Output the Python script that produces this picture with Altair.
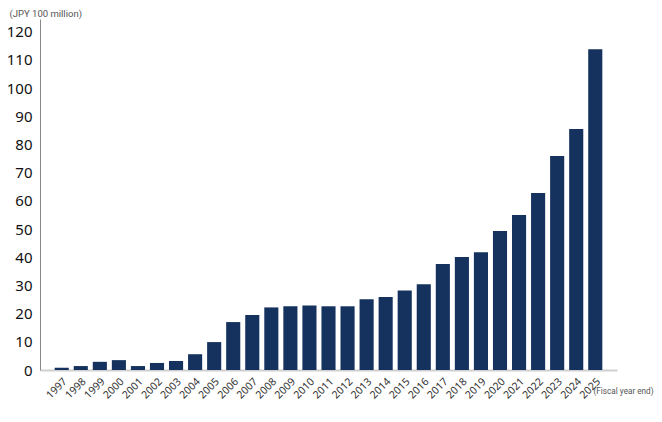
import altair as alt
import pandas as pd

years = [str(y) for y in range(1997, 2026)]
values = [0.8, 1.4, 2.9, 3.5, 1.4, 2.5, 3.2, 5.6, 9.9, 17.0, 19.5, 22.2, 22.6, 22.9, 22.6,
          22.6, 25.1, 25.9, 28.2, 30.4, 37.6, 40.1, 41.8, 49.3, 55.0, 62.8, 75.9, 85.5, 113.8]

df = pd.DataFrame({"year": years, "value": values})

FONT = "Noto Sans"

chart = alt.Chart(df).mark_bar(color="#15325e").encode(
    x=alt.X("year:N", sort=years,
            scale=alt.Scale(paddingInner=0.26, paddingOuter=0.77),
            axis=alt.Axis(title="(Fiscal year end)", labelAngle=-45, labelFontSize=10.5,
                          labelColor="#333333", labelFont=FONT, labelPadding=6,
                          ticks=False, tickSize=0, domainColor="#d0d0d0", domainWidth=2,
                          titleFont="Roboto", titleFontSize=8.2, titleFontWeight="normal",
                          titleColor="#555555", titleAnchor="start", titleAlign="left",
                          titleBaseline="middle", titleX=553, titleY=21)),
    y=alt.Y("value:Q", scale=alt.Scale(domain=[0, 124.5], nice=False),
            axis=alt.Axis(values=list(range(0, 121, 10)), title="(JPY 100 million)",
                          labelFontSize=15, labelColor="#111111", labelFont=FONT,
                          labelPadding=8, ticks=False, tickSize=0, grid=False,
                          domainColor="#888888", domainWidth=1,
                          titleFont="Roboto", titleFontSize=9.5, titleFontWeight="normal",
                          titleColor="#555555", titleAngle=0, titleAlign="left",
                          titleBaseline="alphabetic", titleX=-31, titleY=-3)),
).properties(
    width=577, height=351,
    background="white",
    autosize=alt.AutoSizeParams(type="none"),
    padding={"left": 32, "top": 11, "right": 37, "bottom": 36},
).configure_view(stroke=None)

chart.save("out.html", embed_options={"renderer": "svg", "actions": False})
